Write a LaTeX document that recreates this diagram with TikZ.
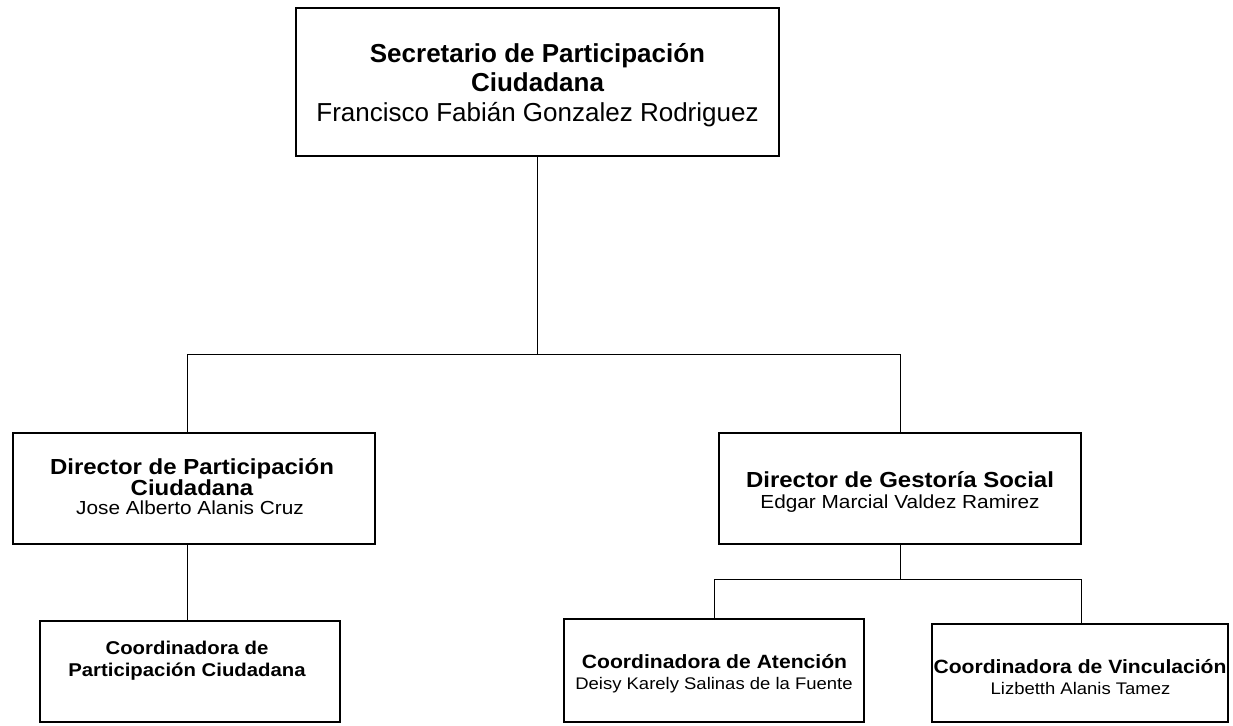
\documentclass[tikz,border=0pt]{standalone}
\usepackage{fontspec}
\setmainfont{Liberation Sans}
\newfontfamily\widesans[FakeStretch=1.1]{Liberation Sans}
\begin{document}
\begin{tikzpicture}[x=1pt,y=-1pt,
  box/.style={draw, line width=2.5pt, inner sep=0pt, outer sep=0pt, fill=white},
  conn/.style={draw, line width=1pt},
  txt/.style={anchor=base, inner sep=0pt, outer sep=0pt},
  ttop/.style={txt, font=\fontsize{26}{26}\selectfont\bfseries},
  ntop/.style={txt, font=\fontsize{26}{26}\selectfont},
  tdir/.style={txt, font=\widesans\fontsize{21.8}{22}\selectfont\bfseries},
  ndir/.style={txt, font=\widesans\fontsize{18.9}{19}\selectfont},
  tco/.style={txt, font=\widesans\fontsize{19.2}{19}\selectfont\bfseries},
  tcol/.style={txt, font=\widesans\fontsize{18.5}{19}\selectfont\bfseries},
  nco/.style={txt, font=\widesans\fontsize{16.8}{17}\selectfont}]
\fill[white] (0,0) rectangle (1233,725);
\useasboundingbox (0,0) rectangle (1233,725);
% boxes
\node[box, minimum width=483pt, minimum height=148pt] (top) at (537.5,82) {};
\node[box, minimum width=362pt, minimum height=111pt] (ldir) at (194,488.5) {};
\node[box, minimum width=362pt, minimum height=111pt] (rdir) at (900,488.5) {};
\node[box, minimum width=300pt, minimum height=101pt] (lcoord) at (190,671.5) {};
\node[box, minimum width=300pt, minimum height=103pt] (atenc) at (714,670.5) {};
\node[box, minimum width=296pt, minimum height=98pt] (vinc) at (1080,673) {};
% connectors
\coordinate (j) at (537.5,354);
\coordinate (hl) at (187,354);
\coordinate (hr) at (900,354);
\draw[conn] (top.south) -- (j);
\draw[conn] (hl) -- (hr);
\draw[conn] (hl) -- (hl |- ldir.north);
\draw[conn] (hr) -- (rdir.north);
\draw[conn] (hl |- ldir.south) -- (hl |- lcoord.north);
\coordinate (k) at (900,579);
\coordinate (kl) at (714,579);
\coordinate (kr) at (1081,579);
\draw[conn] (rdir.south) -- (k);
\draw[conn] (kl) -- (kr);
\draw[conn] (kl) -- (atenc.north);
\draw[conn] (kr) -- (kr |- vinc.north);
% texts
\node[ttop] (top1) at (537.5,63) {Secretario de Participación};
\node[ttop] (top2) at (537.5,92) {Ciudadana};
\node[ntop] (top3) at (537.5,121) {Francisco Fabián Gonzalez Rodriguez};
\node[tdir] (ld1) at (192,474) {Director de Participación};
\node[tdir] (ld2) at (192,495) {Ciudadana};
\node[ndir] (ld3) at (190,514) {Jose Alberto Alanis Cruz};
\node[tdir] (rd1) at (900,487) {Director de Gestoría Social};
\node[ndir] (rd2) at (900,508) {Edgar Marcial Valdez Ramirez};
\node[tcol] (lc1) at (187,654) {Coordinadora de};
\node[tcol] (lc2) at (187,676) {Participación Ciudadana};
\node[tco] (at1) at (714.5,668) {Coordinadora de Atención};
\node[nco] (at2) at (714,689) {Deisy Karely Salinas de la Fuente};
\node[tco] (vi1) at (1080,673) {Coordinadora de Vinculación};
\node[nco] (vi2) at (1080.5,694) {Lizbetth Alanis Tamez};
\end{tikzpicture}
\end{document}
